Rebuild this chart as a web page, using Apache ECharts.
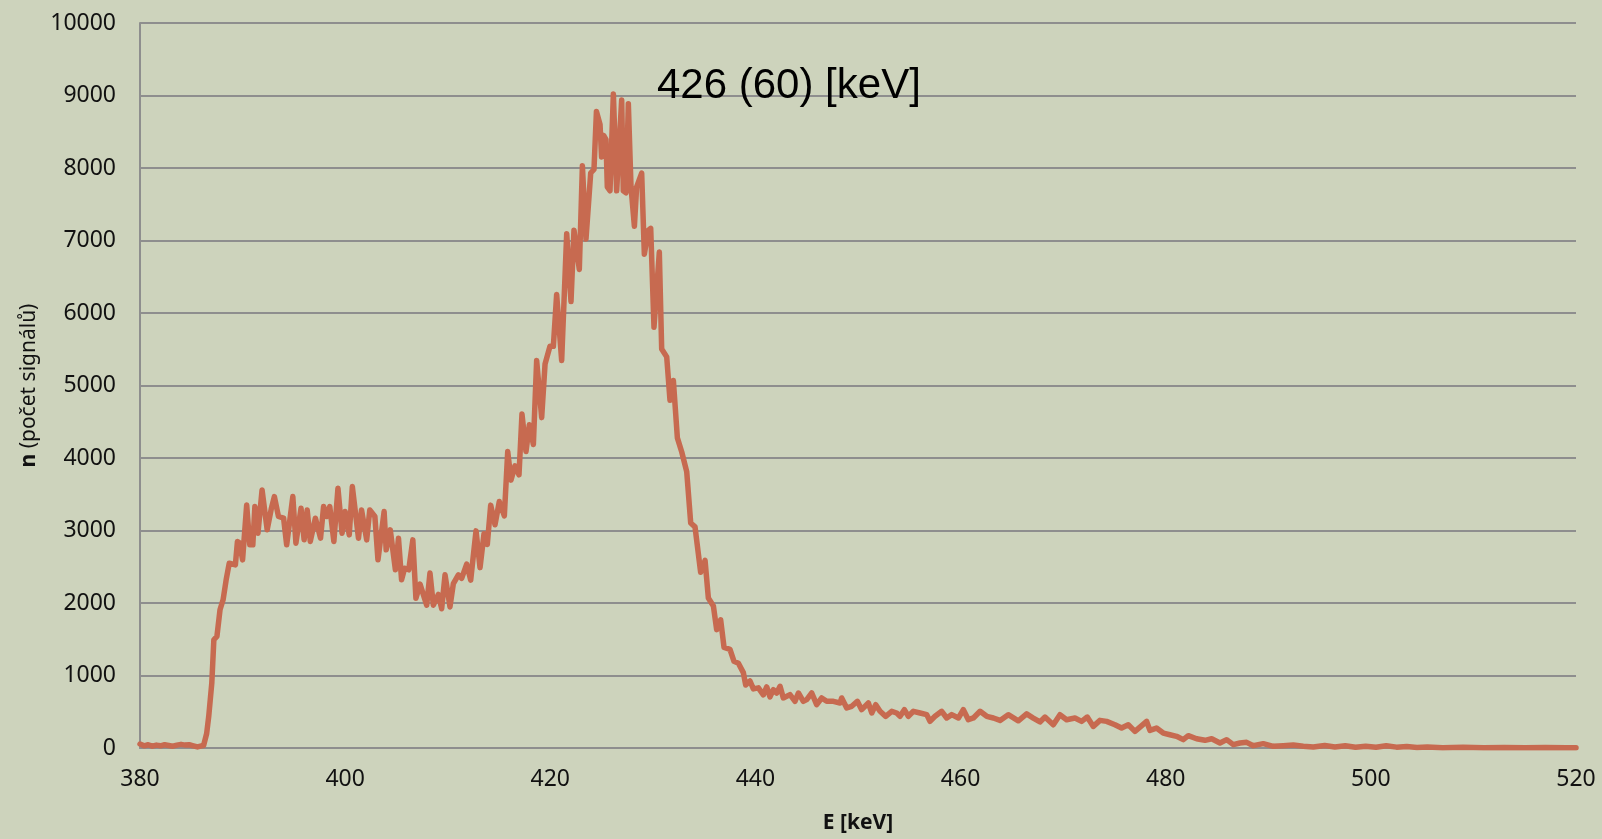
<!DOCTYPE html>
<html>
<head>
<meta charset="utf-8">
<title>426 (60) [keV]</title>
<script src="https://cdn.jsdelivr.net/npm/echarts@6/dist/echarts.min.js"></script>
<style>
  html, body { margin: 0; padding: 0; background: #cdd3bc; }
  #main { width: 1602px; height: 839px; }
</style>
</head>
<body>
<div id="main"></div>
<script>
// spectrum: energy [keV] and number of signals
var energy = [
  380.0, 380.4, 380.8, 381.2, 381.6, 382.0, 382.4, 382.8, 383.2, 383.6,
  384.0, 384.4, 384.8, 385.2, 385.6, 386.0, 386.2, 386.5, 386.7, 387.0,
  387.2, 387.5, 387.8, 388.1, 388.4, 388.7, 389.3, 389.5, 389.7, 390.0,
  390.4, 390.7, 391.0, 391.2, 391.5, 391.9, 392.4, 392.8, 393.1, 393.5,
  394.0, 394.3, 394.9, 395.2, 395.7, 396.0, 396.3, 396.6, 397.1, 397.6,
  397.9, 398.2, 398.5, 398.9, 399.3, 399.7, 400.0, 400.4, 400.7, 401.3,
  401.6, 402.1, 402.4, 402.9, 403.2, 403.8, 404.0, 404.4, 404.9, 405.2,
  405.5, 405.8, 406.2, 406.6, 406.9, 407.3, 407.95, 408.27, 408.6, 409.09,
  409.41, 409.74, 410.22, 410.55, 411.04, 411.36, 411.85, 412.24, 412.76, 413.15,
  413.54, 413.86, 414.19, 414.61, 415.03, 415.52, 415.85, 416.17, 416.56, 416.95,
  417.24, 417.63, 417.96, 418.35, 418.67, 419.16, 419.49, 419.97, 420.3, 420.62,
  421.11, 421.6, 422.02, 422.31, 422.83, 423.13, 423.48, 423.94, 424.26, 424.5,
  424.85, 425.0, 425.2, 425.43, 425.56, 425.82, 426.15, 426.47, 426.96, 427.12,
  427.38, 427.61, 427.87, 428.2, 428.42, 428.91, 429.17, 429.56, 429.79, 430.11,
  430.63, 430.86, 431.35, 431.67, 432.0, 432.39, 432.81, 433.3, 433.69, 434.11,
  434.66, 435.09, 435.41, 435.9, 436.22, 436.61, 436.94, 437.52, 437.91, 438.34,
  438.82, 439.05, 439.47, 439.8, 440.29, 440.77, 441.1, 441.42, 441.75, 442.07,
  442.4, 442.72, 443.37, 443.86, 444.19, 444.67, 445.0, 445.49, 445.97, 446.46,
  446.95, 447.6, 448.25, 448.41, 448.9, 449.39, 449.94, 450.36, 451.01, 451.34,
  451.73, 452.15, 452.7, 453.29, 453.77, 454.1, 454.52, 454.91, 455.4, 456.05,
  456.7, 457.02, 457.51, 458.16, 458.65, 459.14, 459.79, 460.27, 460.76, 461.25,
  461.9, 462.55, 463.2, 463.85, 464.65, 465.63, 466.44, 467.09, 467.74, 468.23,
  469.04, 469.69, 470.34, 471.15, 471.8, 472.35, 472.94, 473.59, 474.24, 475.05,
  475.7, 476.35, 477.0, 477.49, 478.14, 478.46, 479.1, 479.76, 480.41, 481.06,
  481.71, 482.2, 483.01, 483.83, 484.48, 485.29, 485.94, 486.59, 487.24, 487.89,
  488.54, 489.51, 490.49, 491.46, 492.44, 493.41, 494.39, 495.5, 496.5, 497.5,
  498.5, 499.5, 500.5, 501.5, 502.5, 503.5, 504.5, 505.5, 507, 509,
  511, 513, 515, 517, 519, 520
];
var counts = [
  55, 30, 45, 25, 40, 30, 45, 35, 25, 40,
  50, 40, 45, 30, 15, 30, 35, 200, 436, 896,
  1493, 1539, 1906, 2044, 2320, 2549, 2526, 2848, 2830, 2595,
  3353, 2802, 2802, 3330, 2963, 3560, 3009, 3300, 3468, 3193,
  3170, 2802, 3468, 2825, 3307, 2871, 3284, 2848, 3170, 2894,
  3330, 3193, 3330, 2848, 3583, 2963, 3261, 2940, 3606, 2894,
  3284, 2871, 3284, 3193, 2595, 3261, 2733, 3009, 2458, 2894,
  2320, 2480, 2458, 2871, 2067, 2260, 1970, 2414, 1970, 2118,
  1921, 2389, 1946, 2266, 2389, 2340, 2537, 2315, 2995, 2488,
  2956, 2808, 3350, 3079, 3399, 3202, 4089, 3695, 3892, 3768,
  4606, 4089, 4458, 4187, 5345, 4557, 5296, 5542, 5542, 6256,
  5345, 7094, 6158, 7143, 6601, 8030, 7020, 7931, 7980, 8780,
  8600, 8153, 8450, 8393, 7740, 7685, 9021, 7685, 8939, 7685,
  7658, 8885, 7740, 7195, 7740, 7930, 6812, 7140, 7168, 5804,
  6840, 5504, 5395, 4795, 5068, 4277, 4086, 3813, 3104, 3050,
  2423, 2587, 2069, 1960, 1633, 1769, 1387, 1360, 1196, 1169,
  1040, 869, 924, 815, 830, 733, 842, 706, 805, 759,
  851, 690, 736, 644, 759, 644, 667, 759, 598, 690,
  644, 644, 621, 690, 552, 575, 644, 529, 621, 483,
  598, 506, 437, 506, 483, 437, 529, 437, 506, 483,
  460, 368, 437, 506, 414, 460, 414, 529, 391, 414,
  506, 437, 414, 380, 459, 375, 470, 413, 360, 427,
  321, 459, 390, 413, 367, 427, 298, 381, 367, 321,
  275, 321, 229, 289, 367, 243, 275, 206, 183, 161,
  115, 170, 128, 106, 128, 69, 115, 46, 69, 78,
  32, 60, 23, 32, 41, 23, 14, 35, 15, 30,
  10, 25, 10, 30, 12, 20, 8, 15, 5, 10,
  3, 8, 3, 6, 2, 4
];

var chart = echarts.init(document.getElementById("main"));
var seriesData = energy.map(function (e, i) { return [e, counts[i]]; });

var option = {
  backgroundColor: "#cdd3bc",
  animation: false,
  title: {
    text: "426 (60) [keV]",
    left: 652,
    top: 60,
    textStyle: {
      fontFamily: "Liberation Sans",
      fontSize: 42,
      fontWeight: "normal",
      color: "#000"
    }
  },
  grid: { left: 140, right: 26, top: 23, bottom: 91 },
  xAxis: {
    type: "value",
    min: 380,
    max: 520,
    interval: 20,
    name: "E [keV]",
    nameLocation: "middle",
    nameGap: 65,
    nameTextStyle: {
      fontFamily: "Noto Sans",
      fontSize: 21,
      fontWeight: "bold",
      color: "#111"
    },
    axisLine: { lineStyle: { color: "#8e8e8e", width: 2 } },
    axisTick: { show: false },
    splitLine: { show: false },
    axisLabel: {
      margin: 20,
      fontFamily: "Noto Sans",
      fontSize: 23,
      color: "#111",
      formatter: function (v) { return String(v); }
    }
  },
  yAxis: {
    type: "value",
    min: 0,
    max: 10000,
    interval: 1000,
    name: "{b|n} (počet signálů)",
    nameLocation: "middle",
    nameGap: 100,
    nameTextStyle: {
      fontFamily: "Noto Sans",
      fontSize: 21,
      color: "#111",
      rich: {
        b: { fontFamily: "Noto Sans", fontSize: 21, fontWeight: "bold", color: "#111" }
      }
    },
    axisLine: { show: true, lineStyle: { color: "#8e8e8e", width: 2 } },
    axisTick: { show: false },
    splitLine: { lineStyle: { color: "#8e8e8e", width: 2 } },
    axisLabel: {
      margin: 24,
      fontFamily: "Noto Sans",
      fontSize: 23,
      color: "#111",
      formatter: function (v) { return String(v); }
    }
  },
  series: [
    {
      type: "line",
      data: seriesData,
      showSymbol: false,
      symbol: "none",
      lineStyle: { color: "#c76a50", width: 5.5, join: "round", cap: "round" }
    }
  ]
};
chart.setOption(option);
</script>
</body>
</html>
